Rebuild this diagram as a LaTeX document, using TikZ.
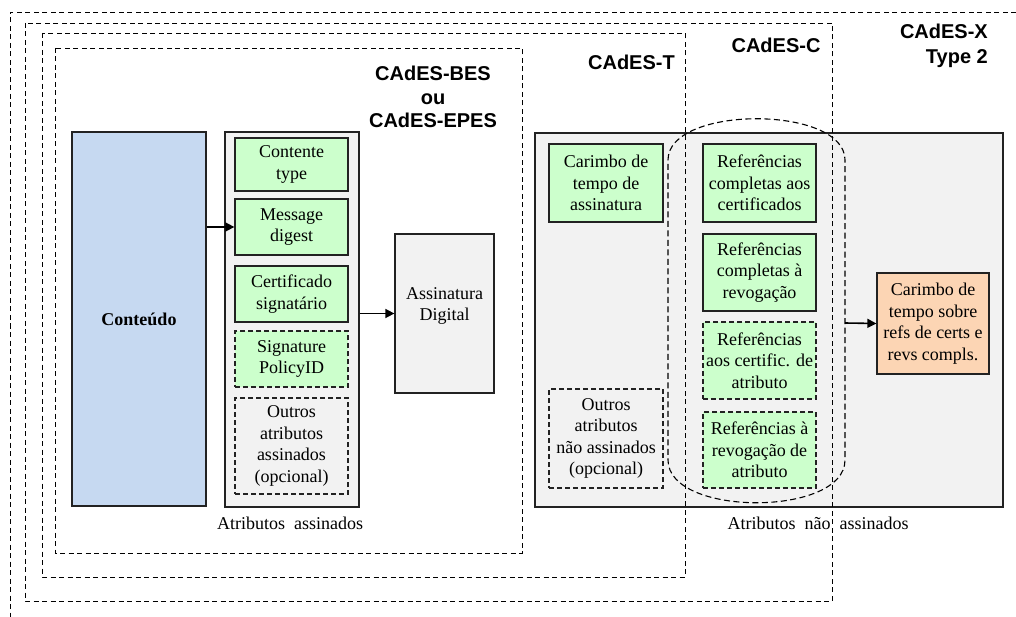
\documentclass[tikz,border=0pt]{standalone}
\usepackage{fontspec}
\setmainfont{Liberation Serif}
\newfontfamily\headfont{Liberation Sans}
\usetikzlibrary{arrows.meta}
\definecolor{attgreen}{HTML}{CCFFCC}
\definecolor{contblue}{HTML}{C6D9F1}
\definecolor{panelgray}{HTML}{F2F2F2}
\definecolor{stamporange}{HTML}{FCD5B4}
\definecolor{edge}{HTML}{222222}
\tikzset{
  txt/.style={font=\fontsize{18}{21.5}\selectfont, align=center, inner sep=0pt},
  boxbase/.style={rectangle, draw=edge, line width=1.3pt, txt},
  greenbox/.style={boxbase, fill=attgreen},
  optbox/.style={boxbase, line width=1.1pt, dash pattern=on 5pt off 3pt},
  panel/.style={boxbase, fill=panelgray},
  frame/.style={draw=black, line width=0.9pt, dash pattern=on 5pt off 3.5pt},
  head/.style={font=\headfont\bfseries\fontsize{20}{24}\selectfont, inner sep=0pt},
  arr/.style={draw=black, line width=1.6pt, -{Triangle[length=9pt,width=9pt]}},
}
\begin{document}
\begin{tikzpicture}[x=1pt,y=-1pt]
\useasboundingbox (0,0) rectangle (1016,617);

% panels of signed and unsigned attributes
\node[panel, minimum width=134, minimum height=375] (sa) at (292,319.5) {};
\node[panel, minimum width=468, minimum height=374] (ua) at (769,320) {};

% nested signature formats
\draw[frame] (1016,12) -- (10,12) -- (10,617);
\draw[frame] (25,23) rectangle (832,601);
\draw[frame] (42,33) rectangle (685,577);
\draw[frame] (55,48) rectangle (522,553);

\node[head, align=center] (bes) at (433,97) {CAdES-BES\\[-0.5pt]ou\\[-0.5pt]CAdES-EPES};
\node[head, anchor=east] (tlab) at (675,62) {CAdES-T};
\node[head] (clab) at (776,45) {CAdES-C};
\node[head, align=right, anchor=east] (xlab) at (988,45.5) {CAdES-X\\[1pt]Type 2};

% content
\node[boxbase, fill=contblue, minimum width=134, minimum height=374,
      font=\fontsize{18}{21}\selectfont\bfseries] (cont) at (139,319) {Conteúdo};

% signed attributes
\node[greenbox, minimum width=113, minimum height=53] (ct) at (291.5,164.5) {Contente\\type};
\node[greenbox, minimum width=113, minimum height=56] (md) at (291.5,227) {Message\\digest};
\node[greenbox, minimum width=113, minimum height=56] (cs) at (291.5,294) {Certificado\\signatário};
\node[optbox, fill=attgreen, minimum width=113, minimum height=56] (sp) at (291.5,359) {Signature\\PolicyID};
\node[optbox, fill=panelgray, minimum width=113, minimum height=96] (oa) at (291.5,446) {Outros\\atributos\\assinados\\(opcional)};
\node[txt] (salab) at (290,523) {Atributos\ \ assinados};

% digital signature
\node[panel, minimum width=99, minimum height=159,
      label={[txt, yshift=7.5pt]center:Assinatura\\Digital}] (ad) at (444.5,313.5) {};

% unsigned attributes
\node[greenbox, minimum width=114, minimum height=78] (ts) at (606,183) {Carimbo de\\tempo de\\assinatura};
\node[optbox, fill=panelgray, minimum width=114, minimum height=99] (ona) at (606,438.5) {Outros\\atributos\\não assinados\\(opcional)};
\node[greenbox, minimum width=113, minimum height=78] (r1) at (759.5,183) {Referências\\completas aos\\certificados};
\node[greenbox, minimum width=113, minimum height=77] (r2) at (759.5,272.5) {Referências\\completas à\\revogação};
\node[optbox, fill=attgreen, minimum width=113, minimum height=77] (r3) at (759.5,360.5) {Referências\\aos certific. de\\atributo};
\node[optbox, fill=attgreen, minimum width=113, minimum height=76] (r4) at (759.5,450) {Referências à\\revogação de\\atributo};
\node[txt] (ualab) at (818,523) {Atributos\ \ não\ \ assinados};

% group of complete references
\draw[draw=black, line width=1.1pt, dash pattern=on 6pt off 3.5pt]
  (668,160) .. controls (668,105) and (845,105) .. (845,160)
  -- (845,460) .. controls (845,517) and (668,517) .. (668,460) -- cycle;
\coordinate (grpE) at (845,323);

\node[boxbase, fill=stamporange, minimum width=112, minimum height=101] (xts) at (933,323.5) {Carimbo de\\tempo sobre\\refs de certs e\\revs compls.};

% connectors
\draw[arr] (cont.east |- md.west) -- (md.west);
\draw[arr] (sa.east |- ad.west) -- (ad.west);
\draw[arr] (grpE) -- (xts.west);
\end{tikzpicture}
\end{document}
